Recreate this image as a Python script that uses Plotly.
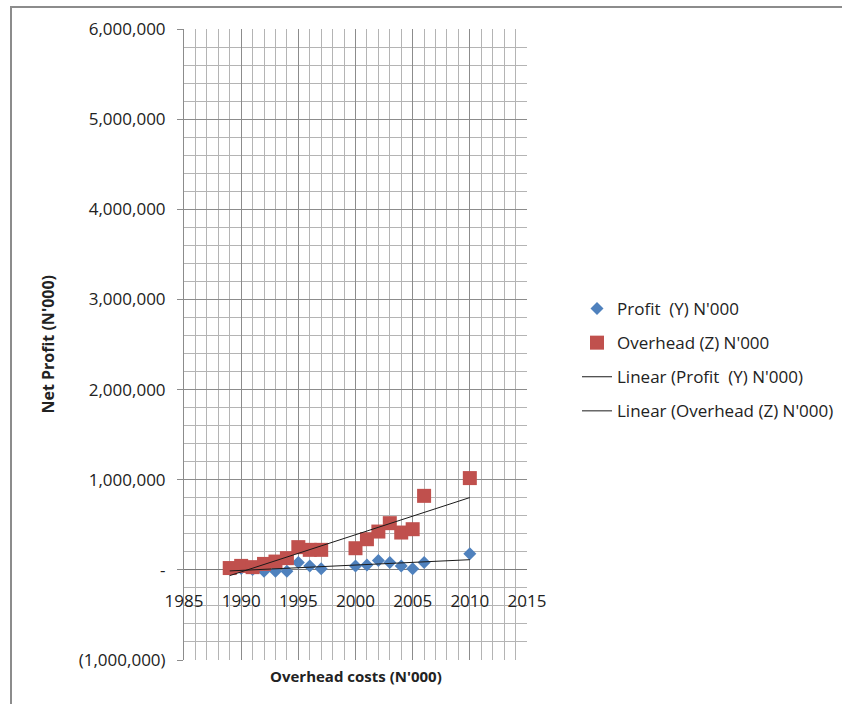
import numpy as np
import plotly.graph_objects as go

# ---- data (values in N'000) ----
years = [1989, 1990, 1991, 1992, 1993, 1994, 1995, 1996, 1997,
         2000, 2001, 2002, 2003, 2004, 2005, 2006, 2010]
profit = [10000, 15000, 5000, -15000, -15000, -15000, 81000, 44000, 11000,
          44000, 55000, 103000, 81000, 44000, 11000, 81000, 178000]
overhead = [20000, 44000, 30000, 66000, 92000, 130000, 252000, 222000, 222000,
            240000, 340000, 425000, 518000, 414000, 451000, 821000, 1018000]

y_tickvals = [-1000000, 0, 1000000, 2000000, 3000000, 4000000, 5000000, 6000000]
y_ticktext = ["(1,000,000)", "-", "1,000,000", "2,000,000", "3,000,000",
              "4,000,000", "5,000,000", "6,000,000"]
x_tickvals = [1985, 1990, 1995, 2000, 2005, 2010, 2015]
x_ticktext = ["1985", "1990", "1995", "2000", "2005", "2010", "2015"]

# ---- linear trend lines (least squares, like Excel) ----
xs = np.array(years, dtype=float)
xline = np.array([min(years), max(years)], dtype=float)
pp = np.polyfit(xs, np.array(profit, dtype=float), 1)
po = np.polyfit(xs, np.array(overhead, dtype=float), 1)

FONT = "Open Sans"
TXT = "#222222"

fig = go.Figure()
fig.add_trace(go.Scatter(x=years, y=profit, mode="markers", name="Profit  (Y) N'000",
                         marker=dict(symbol="diamond", size=10, color="#4F81BD"),
                         legendgroup="a"))
fig.add_trace(go.Scatter(x=years, y=overhead, mode="markers", name="Overhead (Z) N'000",
                         marker=dict(symbol="square", size=14, color="#C0504D"),
                         legendgroup="b"))
fig.add_trace(go.Scatter(x=xline, y=np.polyval(pp, xline), mode="lines",
                         name="Linear (Profit  (Y) N'000)",
                         line=dict(color="#1a1a1a", width=1), legendgroup="c"))
fig.add_trace(go.Scatter(x=xline, y=np.polyval(po, xline), mode="lines",
                         name="Linear (Overhead (Z) N'000)",
                         line=dict(color="#1a1a1a", width=1), legendgroup="d"))

L, R, T, B = 184, 842 - 527, 29, 704 - 660
W = 842 - L - R
H = 704 - T - B

fig.update_layout(
    width=842, height=704,
    margin=dict(l=L, r=R, t=T, b=B, autoexpand=False),
    paper_bgcolor="white", plot_bgcolor="white",
    font=dict(family=FONT, size=17, color=TXT),
    showlegend=True,
    legend=dict(xref="container", yref="container",
                x=577 / 842, xanchor="left", y=1 - 291 / 704, yanchor="top",
                font=dict(family=FONT, size=17, color=TXT),
                tracegroupgap=9, traceorder="grouped",
                bgcolor="rgba(0,0,0,0)"),
    xaxis=dict(range=[1985, 2015], tickvals=x_tickvals, ticktext=x_ticktext,
               anchor="free", position=1 / 7,
               showgrid=True, gridcolor="#8c8c8c", gridwidth=1,
               minor=dict(dtick=1, showgrid=True, gridcolor="#b4b4b4", gridwidth=1),
               zeroline=False, showline=False, ticks="",
               ticklabelstandoff=19,
               tickfont=dict(family=FONT, size=17, color=TXT)),
    yaxis=dict(range=[-1000000, 6000000], tickvals=y_tickvals, ticktext=y_ticktext,
               showgrid=True, gridcolor="#8c8c8c", gridwidth=1,
               minor=dict(dtick=200000, tick0=0, showgrid=True, gridcolor="#b4b4b4", gridwidth=1),
               zeroline=True, zerolinecolor="#7a7a7a", zerolinewidth=1,
               showline=True, linecolor="#8c8c8c", linewidth=1,
               ticks="outside", ticklen=6, tickcolor="#8c8c8c",
               ticklabelstandoff=8,
               tickfont=dict(family=FONT, size=17, color=TXT)),
    annotations=[
        dict(text="<b>Net Profit (N'000)</b>", xref="paper", yref="paper",
             x=(47 - L) / W, y=0.5, xanchor="center", yanchor="middle",
             textangle=-90, showarrow=False,
             font=dict(family=FONT, size=16, color=TXT)),
        dict(text="<b>Overhead costs (N'000)</b>", xref="paper", yref="paper",
             x=0.5, y=(660 - 676) / H, xanchor="center", yanchor="middle",
             showarrow=False, font=dict(family=FONT, size=15, color=TXT)),
    ],
    shapes=[
        dict(type="rect", xref="paper", yref="paper",
             x0=(11 - L) / W, x1=2.2, y0=-0.3, y1=(660 - 7) / H,
             line=dict(color="#8c8c8c", width=2), fillcolor="rgba(0,0,0,0)",
             layer="below"),
    ],
)

fig.write_html("out.html")
